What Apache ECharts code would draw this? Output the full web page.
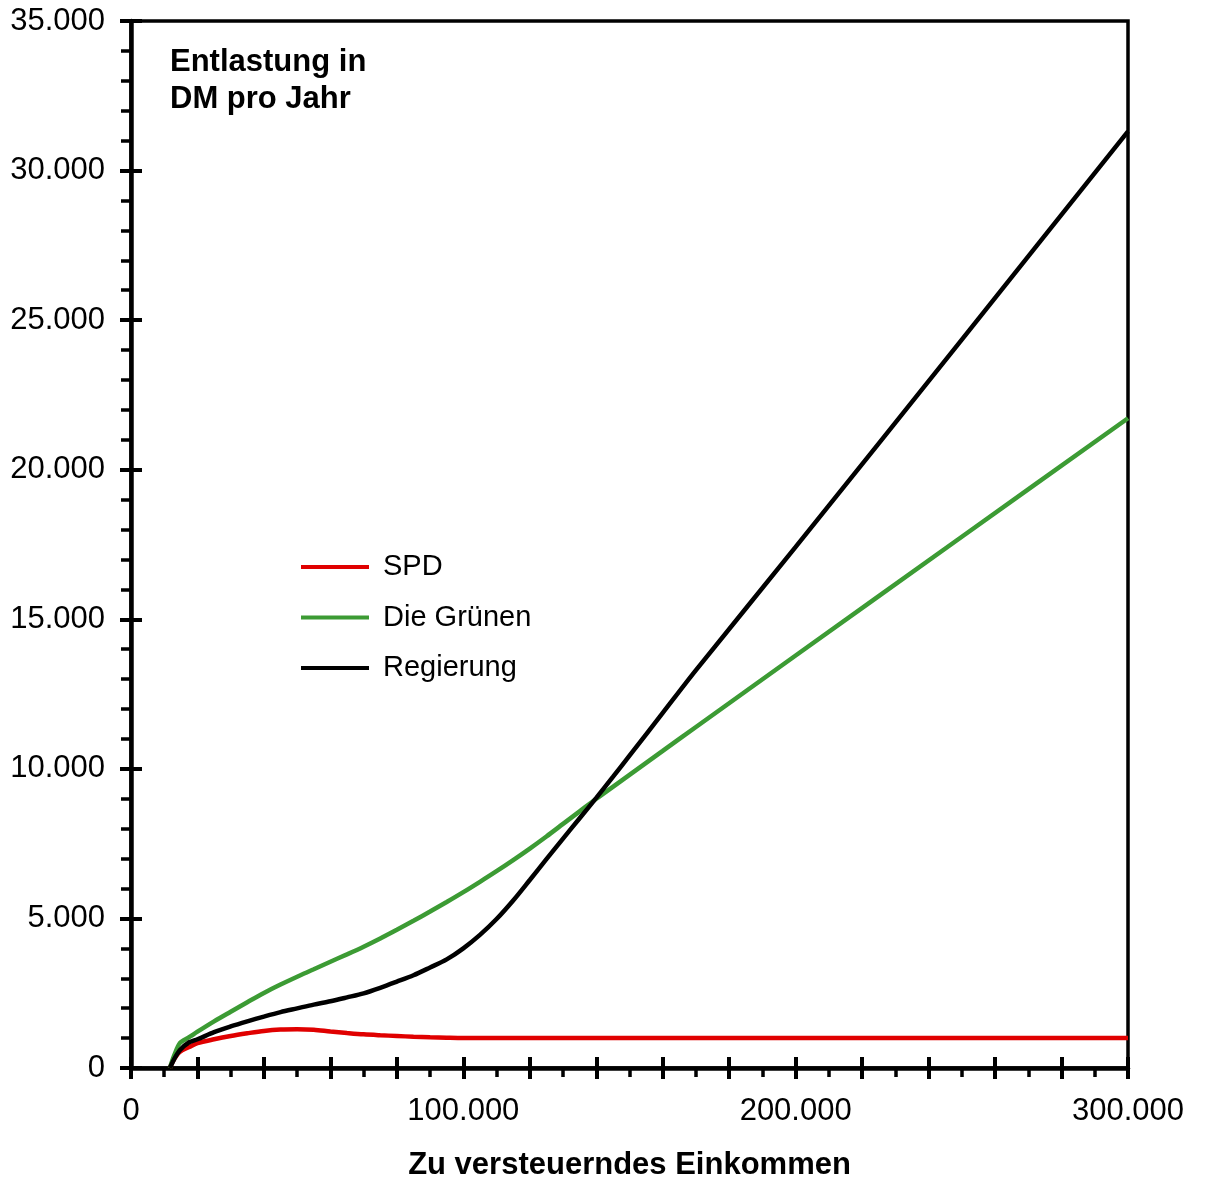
<!DOCTYPE html>
<html>
<head>
<meta charset="utf-8">
<script src="https://cdn.jsdelivr.net/npm/echarts@6/dist/echarts.min.js"></script>
<style>
html,body{margin:0;padding:0;background:#fff;}
#chart{width:1205px;height:1184px;}
</style>
</head>
<body>
<div id="chart"></div>
<script>
// Zu versteuerndes Einkommen (DM)
var income = [11700, 13000, 14750, 17500, 20000, 25000, 30000, 35000, 40000, 45000, 50000, 55000, 60000, 65000, 70000, 75000, 80000, 85000, 90000, 95000, 100000, 105000, 110000, 115000, 120000, 125000, 130000, 135000, 140000, 145000, 150000, 160000, 170000, 200000, 250000, 300000];
// Entlastung in DM pro Jahr
var spd = [0, 300, 546, 700, 830, 960, 1070, 1160, 1240, 1285, 1295, 1280, 1220, 1170, 1125, 1095, 1070, 1045, 1025, 1010, 1000, 1000, 1000, 1000, 1000, 1000, 1000, 1000, 1000, 1000, 1000, 1000, 1000, 1000, 1000, 1000];
var gruene = [0, 420, 840, 1030, 1214, 1560, 1882, 2200, 2510, 2790, 3053, 3300, 3554, 3800, 4055, 4330, 4620, 4920, 5230, 5550, 5880, 6225, 6580, 6950, 7335, 7740, 8160, 8580, 9000, 9400, 9800, 10600, 11400, 13790, 17760, 21720];
var regierung = [0, 300, 602, 860, 960, 1200, 1390, 1560, 1720, 1870, 1995, 2120, 2230, 2360, 2496, 2680, 2886, 3100, 3360, 3630, 4000, 4450, 4980, 5600, 6285, 6980, 7670, 8350, 9030, 9730, 10440, 11870, 13300, 17420, 24350, 31310];
var seriesNames = ['SPD', 'Die Grünen', 'Regierung'];
var xLabelValues = [0, 100000, 200000, 300000];
var yLabelValues = [0, 5000, 10000, 15000, 20000, 25000, 30000, 35000];

function fmt(v) {
  return String(v).replace(/\B(?=(\d{3})+(?!\d))/g, '.');
}
function pairs(xs, ys) {
  return xs.map(function (x, i) { return [x, ys[i]]; });
}

var FONT = '"Liberation Sans", Arial, Helvetica, sans-serif';
var chart = echarts.init(document.getElementById('chart'));
chart.setOption({
  animation: false,
  backgroundColor: '#fff',
  title: {
    text: 'Entlastung in\nDM pro Jahr',
    left: 170,
    top: 44,
    padding: 0,
    textStyle: { fontFamily: FONT, fontSize: 31, fontWeight: 'bold', color: '#000', lineHeight: 37 }
  },
  legend: {
    orient: 'vertical',
    left: 301,
    top: 552,
    padding: 0,
    itemGap: 20.5,
    itemWidth: 68,
    itemHeight: 4,
    icon: 'rect',
    data: seriesNames,
    textStyle: { fontFamily: FONT, fontSize: 29, color: '#000', lineHeight: 30, padding: [0, 0, 0, 9] }
  },
  grid: {
    left: 131, right: 77, top: 21, bottom: 116,
    outerBoundsMode: 'none', containLabel: false,
    show: true, borderColor: '#000', borderWidth: 3.5, backgroundColor: 'transparent'
  },
  xAxis: [{
    type: 'value', min: 0, max: 300000, interval: 20000, position: 'bottom',
    name: 'Zu versteuerndes Einkommen', nameLocation: 'middle', nameGap: 82,
    nameTextStyle: { fontFamily: FONT, fontSize: 31, fontWeight: 'bold', color: '#000' },
    axisLine: { show: true, lineStyle: { color: '#000', width: 4.5 } },
    axisTick: { show: true, length: 11, lineStyle: { color: '#000', width: 4 } },
    minorTick: { show: true, splitNumber: 2, length: 9, lineStyle: { color: '#000', width: 3.5 } },
    splitLine: { show: false },
    axisLabel: {
      fontFamily: FONT, fontSize: 31, color: '#000', margin: 28,
      formatter: function (v) { return xLabelValues.indexOf(v) >= 0 ? fmt(v) : ''; }
    }
  }, {
    type: 'value', min: 0, max: 300000, interval: 20000, position: 'bottom',
    axisLine: { show: false },
    axisTick: { show: true, inside: true, length: 11, lineStyle: { color: '#000', width: 4 } },
    splitLine: { show: false },
    axisLabel: { show: false }
  }],
  yAxis: [{
    type: 'value', min: 0, max: 35000, interval: 5000, position: 'left',
    axisLine: { show: true, lineStyle: { color: '#000', width: 4.5 } },
    axisTick: { show: true, length: 11, lineStyle: { color: '#000', width: 4 } },
    minorTick: { show: true, splitNumber: 5, length: 10, lineStyle: { color: '#000', width: 3.5 } },
    splitLine: { show: false },
    axisLabel: {
      fontFamily: FONT, fontSize: 31, color: '#000', margin: 26,
      formatter: function (v) { return yLabelValues.indexOf(v) >= 0 ? fmt(v) : ''; }
    }
  }, {
    type: 'value', min: 0, max: 35000, interval: 5000, position: 'left',
    axisLine: { show: false },
    axisTick: { show: true, inside: true, length: 11, lineStyle: { color: '#000', width: 4 } },
    splitLine: { show: false },
    axisLabel: { show: false }
  }],
  series: [{
    name: seriesNames[0], type: 'line', data: pairs(income, spd),
    xAxisIndex: 0, yAxisIndex: 0, showSymbol: false, symbol: 'none', smooth: 0.3,
    lineStyle: { color: '#e00000', width: 4.5 }, itemStyle: { color: '#e00000' }
  }, {
    name: seriesNames[1], type: 'line', data: pairs(income, gruene),
    xAxisIndex: 0, yAxisIndex: 0, showSymbol: false, symbol: 'none', smooth: 0.3,
    lineStyle: { color: '#3c9b34', width: 4.5 }, itemStyle: { color: '#3c9b34' }
  }, {
    name: seriesNames[2], type: 'line', data: pairs(income, regierung),
    xAxisIndex: 0, yAxisIndex: 0, showSymbol: false, symbol: 'none', smooth: 0.3,
    lineStyle: { color: '#000', width: 4.5 }, itemStyle: { color: '#000' }
  }]
});
</script>
</body>
</html>
